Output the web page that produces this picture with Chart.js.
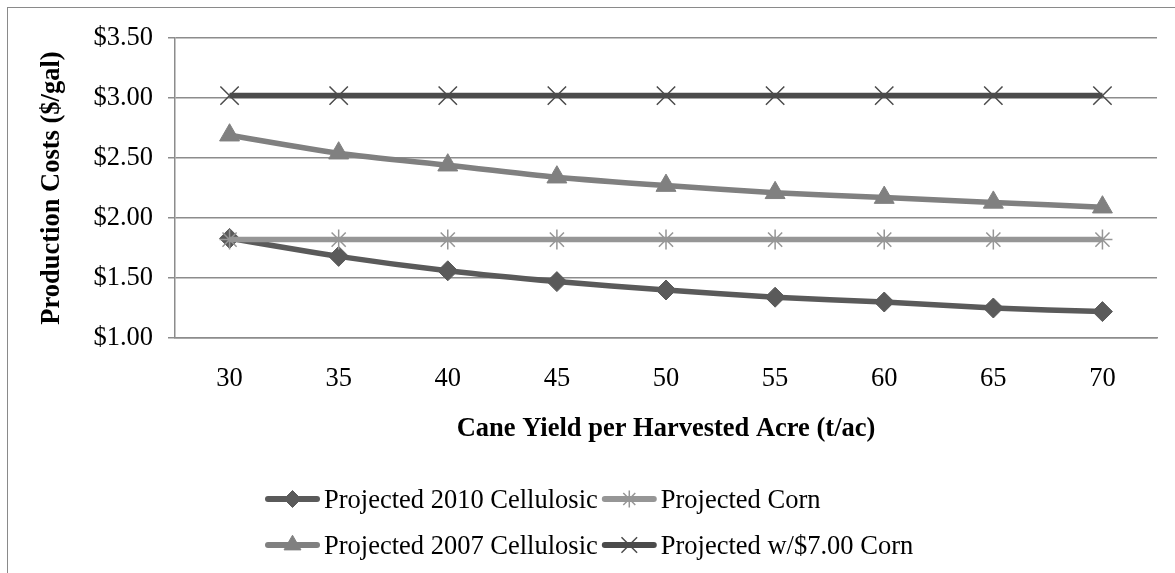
<!DOCTYPE html>
<html>
<head>
<meta charset="utf-8">
<script src="https://cdn.jsdelivr.net/npm/chart.js@4/dist/chart.umd.min.js"></script>
<style>
  html,body{margin:0;padding:0;background:#fff;overflow:hidden;}
  #wrap{position:absolute;left:0;top:0;width:1175px;height:573px;}
  #frame{position:absolute;left:7px;top:7px;width:2000px;height:2000px;border:1.5px solid #8a8a8a;pointer-events:none;}
</style>
</head>
<body>
<div id="wrap"><canvas id="myChart" width="1175" height="573"></canvas></div>
<div id="frame"></div>
<script>
// ---------- data ----------
const caneYield = ['30','35','40','45','50','55','60','65','70'];
const cellulosic2010 = [1.83, 1.68, 1.56, 1.47, 1.40, 1.34, 1.30, 1.25, 1.22];
const cornCost = [1.82, 1.82, 1.82, 1.82, 1.82, 1.82, 1.82, 1.82, 1.82];
const cellulosic2007 = [2.69, 2.54, 2.44, 2.34, 2.27, 2.21, 2.17, 2.13, 2.09];
const corn700Cost = [3.02, 3.02, 3.02, 3.02, 3.02, 3.02, 3.02, 3.02, 3.02];
const yTicks = [1.00, 1.50, 2.00, 2.50, 3.00, 3.50];

const seriesNames = ['Projected 2010 Cellulosic','Projected Corn','Projected 2007 Cellulosic','Projected w/$7.00 Corn'];

const fontFamily = '"Liberation Serif", "Times New Roman", serif';
const fontSize = 26.5;
const gridGray = '#8c8c8c';

// ---------- legend drawn like the spreadsheet one: line + marker, two columns ----------
const gridLegend = {
  id: 'gridLegend',
  afterDraw(chart) {
    const ctx = chart.ctx;
    const sets = chart.data.datasets;
    ctx.save();
    ctx.font = fontSize + 'px ' + fontFamily;
    ctx.textBaseline = 'middle';
    const startX = 265, sampleW = 55, gap = 4, rowY = [499, 545];
    const col0W = Math.max(ctx.measureText(sets[0].label).width, ctx.measureText(sets[2].label).width);
    const colX = [startX, startX + sampleW + gap + col0W + 4];
    sets.forEach((ds, i) => {
      const x = colX[i % 2], y = rowY[Math.floor(i / 2)];
      ctx.strokeStyle = ds.borderColor;
      ctx.fillStyle = ds.borderColor;
      ctx.lineWidth = 6;
      ctx.lineCap = 'round';
      ctx.beginPath();
      ctx.moveTo(x + 3, y);
      ctx.lineTo(x + sampleW - 3, y);
      ctx.stroke();
      ctx.lineCap = 'butt';
      ctx.lineWidth = ds.pointBorderWidth;
      Chart.helpers.drawPoint(ctx, {
        pointStyle: ds.pointStyle, radius: ds.pointRadius * 0.85, rotation: 0, borderWidth: ds.pointBorderWidth
      }, x + sampleW / 2, y);
      ctx.fillStyle = '#000';
      ctx.fillText(ds.label, x + sampleW + gap, y + 2);
    });
    ctx.restore();
  }
};

// marker style helper
function series(label, values, color, style, radius, order) {
  const filled = style === 'rectRot' || style === 'triangle';
  return {
    label: label,
    data: values,
    borderColor: color,
    backgroundColor: color,
    borderWidth: 5.5,
    pointStyle: style,
    pointRadius: radius,
    pointHoverRadius: radius,
    pointBorderWidth: filled ? 1 : 1.5,
    pointBackgroundColor: color,
    pointBorderColor: color,
    tension: 0.25,
    order: order
  };
}

const data = {
  labels: caneYield,
  datasets: [
    series(seriesNames[0], cellulosic2010, '#5a5a5a', 'rectRot', 10, 4),
    series(seriesNames[1], cornCost, '#969696', 'star', 10, 3),
    series(seriesNames[2], cellulosic2007, '#808080', 'triangle', 11.5, 2),
    series(seriesNames[3], corn700Cost, '#4b4b4b', 'crossRot', 13, 1)
  ]
};

const ctx = document.getElementById('myChart');
const chart = new Chart(ctx, {
  type: 'line',
  data: data,
  plugins: [gridLegend],
  options: {
    responsive: false,
    devicePixelRatio: 1,
    animation: false,
    layout: { padding: { top: 38, right: 18, left: 0, bottom: 125 } },
    plugins: { legend: { display: false }, tooltip: { enabled: false } },
    scales: {
      y: {
        min: yTicks[0],
        max: yTicks[yTicks.length - 1],
        afterBuildTicks: (scale) => { scale.ticks = yTicks.map(v => ({ value: v })); },
        afterFit: (scale) => { scale.width = 175; },
        ticks: {
          callback: (v) => '$' + Number(v).toFixed(2),
          color: '#000',
          font: { family: fontFamily, size: fontSize },
          padding: 15
        },
        grid: { color: gridGray, lineWidth: 1.5, tickLength: 7 },
        border: { color: gridGray, width: 1.5 },
        title: {
          display: true,
          text: 'Production Costs ($/gal)',
          color: '#000',
          font: { family: fontFamily, size: fontSize, weight: 'bold' },
          padding: { top: 36, bottom: 0 }
        }
      },
      x: {
        offset: true,
        afterFit: (scale) => { scale.height = 110; },
        ticks: {
          color: '#000',
          font: { family: fontFamily, size: fontSize },
          padding: 25,
          maxRotation: 0,
          autoSkip: false
        },
        grid: { display: false, drawTicks: false },
        border: { color: gridGray, width: 1.5 },
        title: {
          display: true,
          text: 'Cane Yield per Harvested Acre (t/ac)',
          color: '#000',
          font: { family: fontFamily, size: fontSize, weight: 'bold' },
          padding: { top: 0, bottom: 3 }
        }
      }
    }
  }
});
</script>
</body>
</html>
